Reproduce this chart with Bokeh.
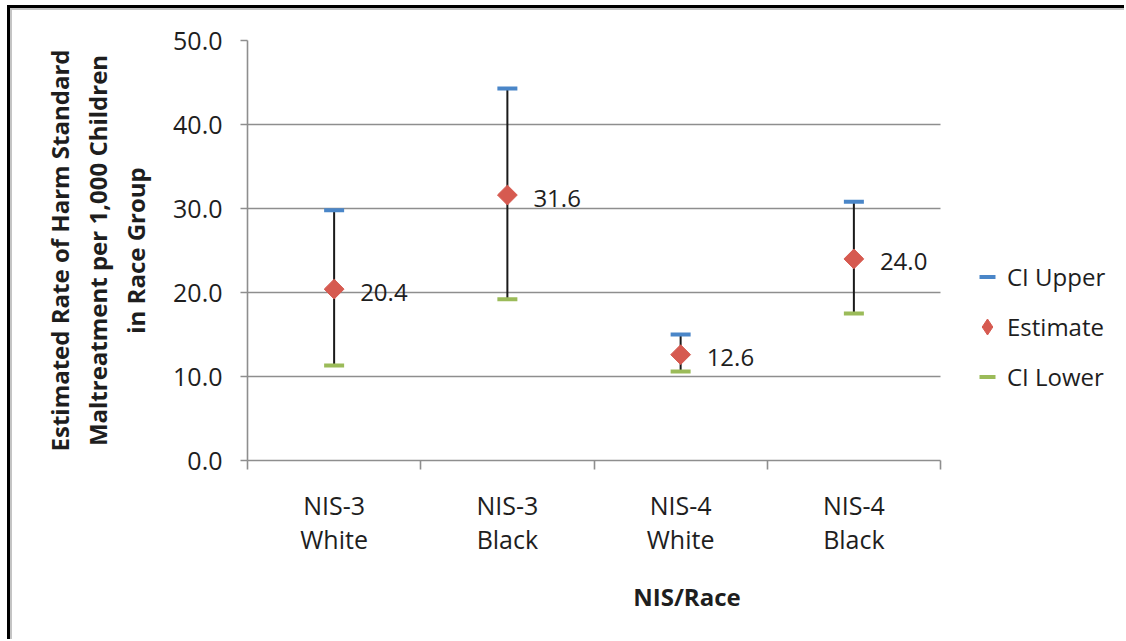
import math

from bokeh.plotting import figure
from bokeh.models import (Range1d, FixedTicker, NumeralTickFormatter, Legend,
                          LegendItem, ColumnDataSource)
from bokeh.core.properties import value
from bokeh.embed import file_html
from bokeh.resources import INLINE

# Harm Standard maltreatment rates with confidence intervals
groups = ["NIS-3\nWhite", "NIS-3\nBlack", "NIS-4\nWhite", "NIS-4\nBlack"]
estimate = [20.4, 31.6, 12.6, 24.0]
ci_upper = [29.8, 44.3, 15.0, 30.8]
ci_lower = [11.3, 19.2, 10.6, 17.5]
y_ticks = [0, 10, 20, 30, 40, 50]

FONT = "Open Sans"
TEXT = "#1e1e1e"
GRID = "#8e8e8e"
RED = "#d65a50"
N = len(groups)

xs = [i + 0.5 for i in range(N)]
src = ColumnDataSource(dict(
    x=xs, est=estimate, up=ci_upper, lo=ci_lower,
    lbl=[f"{v:.1f}" for v in estimate],
))

# the plotting area runs on to the right edge so the legend can sit in it;
# the categories occupy the first 693 px of its 879 px width
p = figure(width=1114, height=631, output_backend="svg", toolbar_location=None,
           x_range=Range1d(0, N * 879 / 693), y_range=Range1d(0, 50),
           min_border_left=235, min_border_right=0,
           min_border_top=30, min_border_bottom=181,
           outline_line_color=None, background_fill_color="white",
           border_fill_color="white")
# framed page: grey inner edge with a black rule outside it
p.margin = (8, 0, 0, 10)
p.styles = {"border-left": "2px solid #c4c4c4", "border-top": "2px solid #c4c4c4",
            "box-shadow": "-3px 0 0 0 #000000, 0 -3px 0 0 #000000, "
                          "-3px -3px 0 0 #000000"}

# y axis
yax = p.yaxis[0]
yax.ticker = FixedTicker(ticks=y_ticks, minor_ticks=[])
yax.formatter = NumeralTickFormatter(format="0.0")
yax.axis_line_color = GRID
yax.axis_line_width = 1.6
yax.major_tick_line_color = GRID
yax.major_tick_line_width = 1.6
yax.major_tick_out = 7
yax.major_tick_in = 0
yax.minor_tick_line_color = None
yax.major_label_text_font = FONT
yax.major_label_text_font_size = "25px"
yax.major_label_text_color = TEXT
yax.major_label_standoff = 18
yax.axis_label = ("Estimated Rate of Harm Standard\n"
                  "Maltreatment per 1,000 Children\n"
                  "in Race Group")
yax.axis_label_text_font = FONT
yax.axis_label_text_font_style = "bold"
yax.axis_label_text_font_size = "24px"
yax.axis_label_text_color = TEXT
yax.axis_label_text_line_height = 1.15
yax.axis_label_standoff = 18

# x axis: labels at the centres, tick marks between groups
xax = p.xaxis[0]
xax.bounds = (0, N)
xax.ticker = FixedTicker(ticks=xs, minor_ticks=list(range(N + 1)))
xax.major_label_overrides = {x: g for x, g in zip(xs, groups)}
xax.axis_line_color = GRID
xax.axis_line_width = 1.6
xax.major_tick_line_color = None
xax.major_tick_out = 0
xax.major_tick_in = 0
xax.minor_tick_line_color = GRID
xax.minor_tick_line_width = 1.6
xax.minor_tick_out = 9
xax.minor_tick_in = 0
xax.major_label_text_font = FONT
xax.major_label_text_font_size = "25px"
xax.major_label_text_color = TEXT
xax.major_label_text_line_height = 1.0
xax.major_label_standoff = 18
xax.axis_label = "NIS/Race"
xax.axis_label_text_font = FONT
xax.axis_label_text_font_style = "bold"
xax.axis_label_text_font_size = "24px"
xax.axis_label_text_color = TEXT
xax.axis_label_standoff = 21

p.xgrid.grid_line_color = None
p.ygrid.ticker = FixedTicker(ticks=y_ticks)
p.ygrid.grid_line_color = GRID
p.ygrid.grid_line_width = 1.6
p.ygrid.cross_bounds = (0, N)

# error bars, caps and estimates
p.segment(x0="x", y0="lo", x1="x", y1="up", source=src,
          line_color="#1a1a1a", line_width=2)
r_up = p.scatter(x="x", y="up", source=src, marker="dash", size=20,
                 line_color="#4a86c8", line_width=4)
r_lo = p.scatter(x="x", y="lo", source=src, marker="dash", size=20,
                 line_color="#9bbb59", line_width=4)
# upright diamond core (also the legend swatch) under the full-size marker
r_est = p.scatter(x="x", y="est", source=src, marker="diamond", size=12,
                  fill_color=RED, line_color=RED)
p.scatter(x="x", y="est", source=src, marker="square", size=14,
          angle=math.pi / 4, fill_color=RED, line_color=RED)
p.text(x="x", y="est", text="lbl", source=src, x_offset=26, y_offset=3,
       text_baseline="middle", text_align="left",
       text_font=value(FONT), text_font_size="24px", text_color=TEXT)

legend = Legend(items=[
    LegendItem(label="CI Upper", renderers=[r_up]),
    LegendItem(label="Estimate", renderers=[r_est]),
    LegendItem(label="CI Lower", renderers=[r_lo]),
], location=(720, 61), orientation="vertical",
    glyph_width=40, glyph_height=45, label_height=45, label_standoff=0,
    spacing=5, padding=0, margin=0,
    label_text_font=FONT, label_text_font_size="24px", label_text_color=TEXT,
    border_line_color=None, background_fill_alpha=0)
p.add_layout(legend)

open("out.html", "w").write(file_html(p, INLINE))
